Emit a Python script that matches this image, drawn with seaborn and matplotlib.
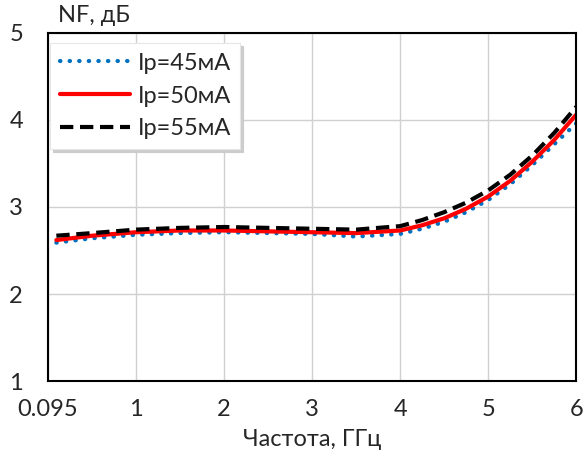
import matplotlib
matplotlib.use("Agg")
import matplotlib.pyplot as plt
import pandas as pd
import seaborn as sns

freq = [0.095, 0.5, 1, 1.5, 2, 2.5, 3, 3.5, 4, 4.25, 4.5, 4.75, 5, 5.25, 5.5, 5.75, 6]
nf_45 = [2.59, 2.64, 2.68, 2.70, 2.71, 2.70, 2.69, 2.66, 2.69, 2.75, 2.83, 2.94, 3.08, 3.26, 3.48, 3.72, 3.96]
nf_50 = [2.62, 2.67, 2.71, 2.73, 2.73, 2.72, 2.71, 2.70, 2.73, 2.79, 2.87, 2.98, 3.12, 3.30, 3.52, 3.77, 4.06]
nf_55 = [2.67, 2.70, 2.74, 2.76, 2.77, 2.76, 2.75, 2.74, 2.78, 2.85, 2.94, 3.05, 3.19, 3.37, 3.59, 3.85, 4.15]
labels = ["Ip=45мА", "Ip=50мА", "Ip=55мА"]
x_ticks = [0, 1, 2, 3, 4, 5, 6]
x_tick_labels = ["0.095", "1", "2", "3", "4", "5", "6"]
y_ticks = [1, 2, 3, 4, 5]

sns.set_style("white")
plt.rcParams["font.family"] = ["Lato", "DejaVu Sans"]

df = pd.DataFrame({"freq": freq, labels[0]: nf_45, labels[1]: nf_50, labels[2]: nf_55})

fig = plt.figure(figsize=(5.85, 4.62), dpi=100)
ax = fig.add_axes([0.082, 0.175, 0.903, 0.754])

sns.lineplot(data=df, x="freq", y=labels[0], ax=ax, color="#0070C0", linewidth=3,
             linestyle=(0, (0.1, 2.2)), dash_capstyle="round", label=labels[0])
sns.lineplot(data=df, x="freq", y=labels[1], ax=ax, color="#FF0000", linewidth=3,
             label=labels[1])
sns.lineplot(data=df, x="freq", y=labels[2], ax=ax, color="black", linewidth=3,
             linestyle=(0, (3.2, 1.6)), label=labels[2])

ax.set_xlim(0, 6)
ax.set_ylim(1, 5)
ax.set_xticks(x_ticks)
ax.set_xticklabels(x_tick_labels)
ax.set_yticks(y_ticks)
ax.tick_params(axis="both", length=0, labelsize=17)
ax.tick_params(axis="x", pad=13)
ax.tick_params(axis="y", pad=18)
ax.grid(True, color="#d0d0d0", linewidth=1)
for s in ax.spines.values():
    s.set_color("black")
    s.set_linewidth(1.5)

ax.set_xlabel("Частота, ГГц", fontsize=17, labelpad=6)
ax.set_ylabel("")
fig.text(58 / 585, 1 - 16 / 462, "NF, дБ", fontsize=17, va="center", ha="left")

leg = ax.legend(loc="upper left", bbox_to_anchor=(0.004, 0.97), fontsize=17,
                handlelength=3.0, frameon=True, fancybox=False, borderaxespad=0,
                labelspacing=0.5, handletextpad=0.3, borderpad=0.4,
                shadow={"color": "0.8", "alpha": 1, "ox": 2, "oy": -2})
leg.get_frame().set_edgecolor("#e6e6e6")
leg.get_frame().set_linewidth(0.8)

fig.savefig("out.png", dpi=100)
